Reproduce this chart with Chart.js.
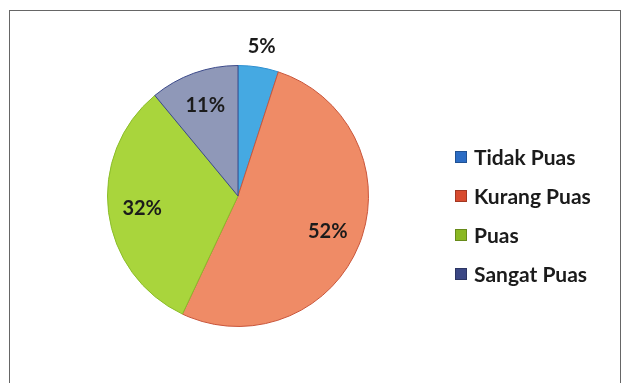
<!DOCTYPE html>
<html>
<head>
<meta charset="utf-8">
<script src="https://cdn.jsdelivr.net/npm/chart.js@4.4.1/dist/chart.umd.min.js"></script>
<style>
  html, body { margin: 0; padding: 0; background: #fff; }
  #wrap { position: relative; width: 628px; height: 383px; overflow: hidden; }
  #frame { position: absolute; left: 9px; top: 10px; width: 612px; height: 400px; border: 1.5px solid #666; box-sizing: border-box; }
  canvas { position: absolute; left: 0; top: 0; }
  #legend { position: absolute; left: 455px; top: 137px; font-family: Lato, "Open Sans", sans-serif; font-weight: bold; font-size: 21px; color: #1b1b1b; }
  .item { height: 39px; display: flex; align-items: center; }
  .box { width: 10px; height: 10px; margin-right: 7px; border: 1px solid rgba(0,0,0,0.25); }
</style>
</head>
<body>
<div id="wrap">
  <div id="frame"></div>
  <canvas id="pieChart" width="628" height="383"></canvas>
  <div id="legend"></div>
</div>
<script>
const categories = ["Tidak Puas", "Kurang Puas", "Puas", "Sangat Puas"];
const values = [5, 52, 32, 11];
const sliceColors = ["#45a9e2", "#ef8b66", "#a9d53c", "#8f98b8"];
const edgeColors = ["#2f8fd0", "#c9553a", "#8bbd2a", "#3c4a8a"];
const legendColors = ["#2b6cc4", "#d84b2f", "#8ab823", "#3b4784"];

// percentage labels, small slices go outside
const pctLabels = {
  id: "pctLabels",
  afterDatasetsDraw(chart) {
    const ctx = chart.ctx;
    const meta = chart.getDatasetMeta(0);
    const total = values.reduce((a, b) => a + b, 0);
    ctx.save();
    ctx.font = "bold 20px Lato, 'Open Sans', sans-serif";
    ctx.fillStyle = "#1b1b1b";
    ctx.textAlign = "center";
    ctx.textBaseline = "middle";
    meta.data.forEach((arc, i) => {
      const p = arc.getProps(["x", "y", "startAngle", "endAngle", "outerRadius"], true);
      const mid = (p.startAngle + p.endAngle) / 2;
      const r = values[i] < 8 ? p.outerRadius * 1.16 : p.outerRadius * 0.74;
      const pct = Math.round(values[i] / total * 100) + "%";
      ctx.fillText(pct, p.x + Math.cos(mid) * r, p.y + Math.sin(mid) * r);
    });
    ctx.restore();
  },
};

const ctx = document.getElementById("pieChart").getContext("2d");
new Chart(ctx, {
  type: "pie",
  data: {
    labels: categories,
    datasets: [
      {
        data: values,
        backgroundColor: sliceColors,
        borderColor: edgeColors,
        borderWidth: 1,
        hoverOffset: 0,
      },
    ],
  },
  options: {
    responsive: false,
    animation: false,
    layout: { padding: { left: 107, right: 259, top: 63, bottom: 54 } },
    plugins: {
      legend: { display: false },
      tooltip: { enabled: false },
    },
  },
  plugins: [pctLabels],
});

const legend = document.getElementById("legend");
categories.forEach((name, i) => {
  const row = document.createElement("div");
  row.className = "item";
  row.innerHTML = `<span class="box" style="background:${legendColors[i]}"></span>${name}`;
  legend.appendChild(row);
});
</script>
</body>
</html>
